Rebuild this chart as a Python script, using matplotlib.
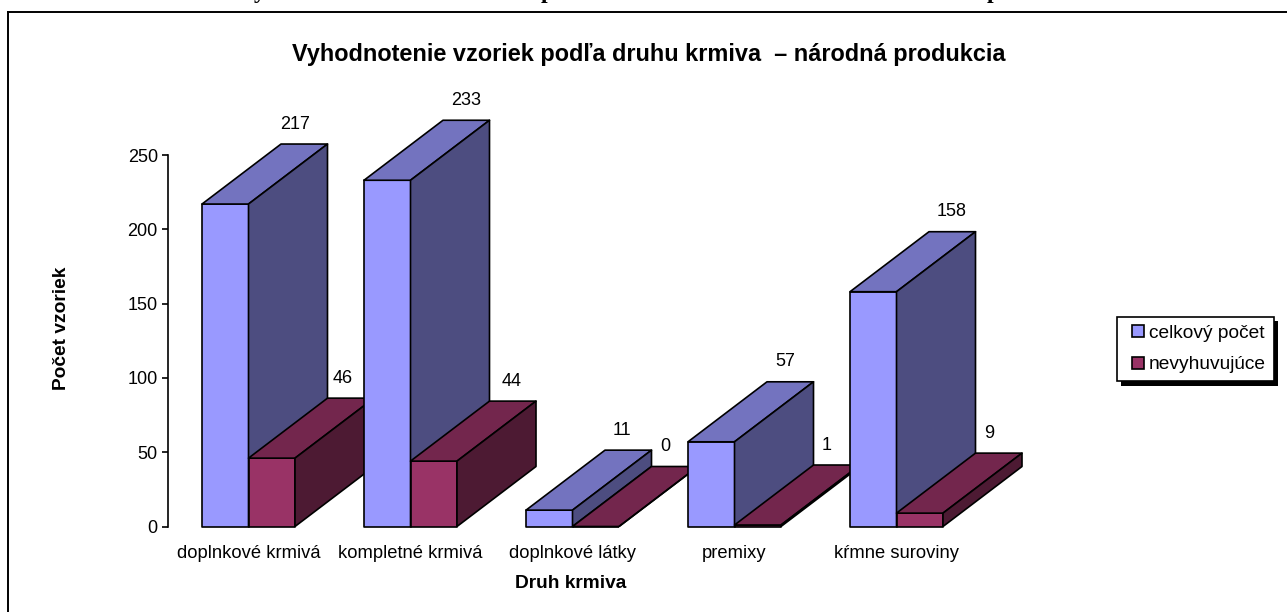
import matplotlib
matplotlib.use("Agg")
import matplotlib.pyplot as plt
import matplotlib.patheffects as pe
from matplotlib.patches import Polygon
from matplotlib.lines import Line2D

categories = ["doplnkové krmivá", "kompletné krmivá", "doplnkové látky", "premixy", "kŕmne suroviny"]
celkovy_pocet = [217, 233, 11, 57, 158]
nevyhovujuce = [46, 44, 0, 1, 9]
y_ticks = [0, 50, 100, 150, 200, 250]

W, H = 1287, 612
plt.rcParams["font.family"] = ["Liberation Sans", "DejaVu Sans"]

# farby: predna stena, vrch, bok
BLUE = ("#9999FF", "#7373BF", "#4D4D80")
RED = ("#993366", "#73264D", "#4D1A33")

# skala osi v pixeloch
X_UNIT = 162.0
Y_UNIT = 1.486
BAR_W = 46.5 / X_UNIT
DEPTH_X = 79 / X_UNIT
DEPTH_Y = 60 / Y_UNIT

fig = plt.figure(figsize=(W / 100, H / 100), dpi=100)
ax = fig.add_axes([168 / W, 1 - 526.5 / H, 880 / W, 431 / H])
ax.patch.set_alpha(0)
ax.set_xlim(-80.5 / X_UNIT, (880 - 80.5) / X_UNIT)
ax.set_ylim(0, 431 / Y_UNIT)


def draw_bar(x0, x1, h, colors):
    front, top, side = colors
    faces = [
        ([(x0, 0), (x1, 0), (x1, h), (x0, h)], front),
        ([(x0, h), (x1, h), (x1 + DEPTH_X, h + DEPTH_Y), (x0 + DEPTH_X, h + DEPTH_Y)], top),
        ([(x1, 0), (x1 + DEPTH_X, DEPTH_Y), (x1 + DEPTH_X, h + DEPTH_Y), (x1, h)], side),
    ]
    for pts, col in faces:
        ax.add_patch(Polygon(pts, closed=True, facecolor=col, edgecolor="black",
                             linewidth=1.2, joinstyle="round", clip_on=False))


for i in range(len(categories)):
    draw_bar(i - BAR_W, i, celkovy_pocet[i], BLUE)
    draw_bar(i, i + BAR_W, nevyhovujuce[i], RED)

# popisky hodnot
blue_dx = [47, 56, 49, 51, 55]
red_dx = [94, 101, 93, 92, 93]
for i in range(len(categories)):
    ax.annotate(str(celkovy_pocet[i]), (i, celkovy_pocet[i]), xytext=(blue_dx[i], 80),
                textcoords="offset pixels", ha="center", va="center", fontsize=13, annotation_clip=False)
    ax.annotate(str(nevyhovujuce[i]), (i, nevyhovujuce[i]), xytext=(red_dx[i], 80),
                textcoords="offset pixels", ha="center", va="center", fontsize=13, annotation_clip=False)

for s in ["top", "right", "bottom"]:
    ax.spines[s].set_visible(False)
ax.spines["left"].set_bounds(0, 250)
ax.spines["left"].set_linewidth(1.2)
ax.set_yticks(y_ticks)
ax.tick_params(axis="y", length=4.3, width=1.2, labelsize=13, pad=3)
ax.set_xticks(range(len(categories)))
ax.set_xticklabels(categories, fontsize=13.2)
ax.tick_params(axis="x", length=0, pad=13)

fig.text(649 / W, 1 - 54 / H, "Vyhodnotenie vzoriek podľa druhu krmiva  – národná produkcia",
         ha="center", va="center", fontsize=16.9, fontweight="bold")
fig.text(571 / W, 1 - 584 / H, "Druh krmiva", ha="center", va="center", fontsize=13.8, fontweight="bold")
fig.text(62 / W, 1 - 328 / H, "Počet vzoriek", ha="center", va="center", rotation=90,
         fontsize=13.8, fontweight="bold")

# zvysky orezaneho nadpisu dokumentu
for x, ch in [(260, "y"), (547, "p"), (993, "p")]:
    fig.text(x / W, 1 + 2 / H, ch, ha="center", va="baseline", fontsize=17, fontweight="bold",
             family="Liberation Serif")

# ramik grafu
fig.add_artist(Line2D([8 / W, 8 / W], [0, 1 - 12 / H], color="black", lw=1.4))
fig.add_artist(Line2D([8 / W, 1], [1 - 12 / H, 1 - 12 / H], color="black", lw=1.4))

handles = [Line2D([], [], marker="s", linestyle="none", markersize=8, markerfacecolor=BLUE[0],
                  markeredgecolor="black", markeredgewidth=1.2),
           Line2D([], [], marker="s", linestyle="none", markersize=8, markerfacecolor=RED[0],
                  markeredgecolor="black", markeredgewidth=1.2)]
leg = fig.legend(handles, ["celkový počet", "nevyhuvujúce"], loc="center", numpoints=1,
                 bbox_to_anchor=(1195.5 / W, 1 - 349 / H), fontsize=13.8, fancybox=False,
                 edgecolor="black", framealpha=1, handlelength=1.4,
                 handletextpad=-0.15, labelspacing=0.72, borderpad=0.42, borderaxespad=0)
leg.get_frame().set_linewidth(1.2)
leg.get_frame().set_path_effects([pe.SimplePatchShadow(offset=(3, -3), shadow_rgbFace="black", alpha=1),
                                  pe.Normal()])

fig.savefig("out.png", dpi=100)
